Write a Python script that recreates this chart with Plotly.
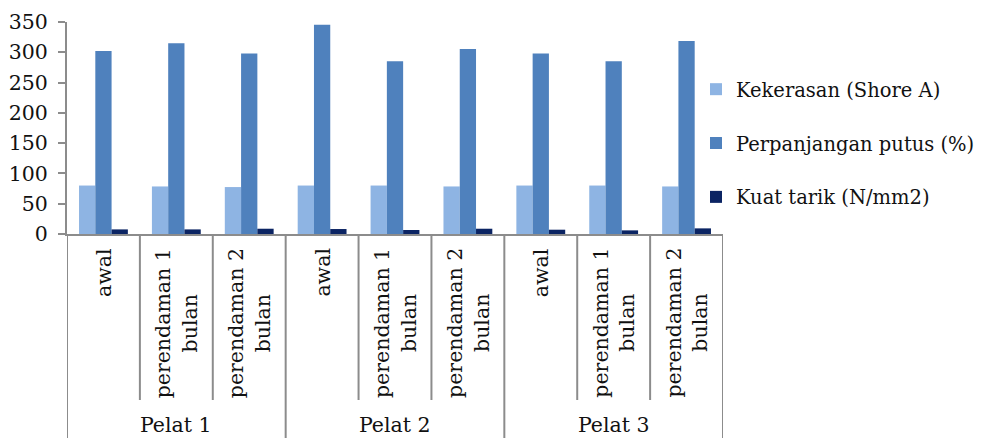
import plotly.graph_objects as go

groups = ["Pelat 1", "Pelat 2", "Pelat 3"]
subs = ["awal", "perendaman 1<br>bulan", "perendaman 2<br>bulan"]
series_names = ["Kekerasan (Shore A)", "Perpanjangan putus (%)", "Kuat tarik (N/mm2)"]
kekerasan = [80, 78.5, 77.5, 80, 80, 78.5, 80, 80, 78.5]
perpanjangan = [302, 315, 298, 345.5, 285, 305.5, 298, 285, 318.5]
kuat_tarik = [7.6, 7.6, 8.7, 8.2, 6.6, 8.7, 7.1, 6.0, 9.3]
colors = ["#8EB4E3", "#4F81BD", "#0B2463"]
y_ticks = [0, 50, 100, 150, 200, 250, 300, 350]

FONT = "DejaVu Serif"
GRAY = "#8C8C8C"
FS = 20.5
LFS = 19.5

n = len(groups) * len(subs)
xs = list(range(n))

fig = go.Figure()
for name, vals, col in zip(series_names, [kekerasan, perpanjangan, kuat_tarik], colors):
    fig.add_trace(go.Bar(x=xs, y=vals, name=name, marker=dict(color=col, line=dict(width=0)),
                         legendgroup=name))

# plot area geometry (pixels) used for paper-coord conversions
top_px, bot_px = 22, 234
h_px = bot_px - top_px

def py(px):
    return (bot_px - px) / h_px

annotations = []
shapes = []
for gi, g in enumerate(groups):
    for si, s in enumerate(subs):
        i = gi * len(subs) + si
        annotations.append(dict(x=i, y=py(246), xref="x", yref="paper", text=s, textangle=-90,
                                showarrow=False, xanchor="center", yanchor="top", align="center",
                                font=dict(family=FONT, size=FS, color="#111111")))
    annotations.append(dict(x=gi * len(subs) + 1, y=py(425), xref="x", yref="paper", text=g,
                            showarrow=False, xanchor="center", yanchor="middle",
                            font=dict(family=FONT, size=FS, color="#111111")))

for i in range(n + 1):
    xb = i - 0.5
    is_group = (i % len(subs) == 0)
    shapes.append(dict(type="line", xref="x", yref="paper", x0=xb, x1=xb, y0=0,
                       y1=py(438) if is_group else py(400),
                       line=dict(color=GRAY, width=2), layer="above"))

fig.update_layout(
    width=989, height=438,
    margin=dict(l=67, r=266, t=top_px, b=438 - bot_px, pad=0, autoexpand=False),
    paper_bgcolor="white", plot_bgcolor="white",
    barmode="group", bargap=0.33, bargroupgap=0,
    font=dict(family=FONT, size=FS, color="#111111"),
    xaxis=dict(range=[-0.5, n - 0.5], showticklabels=False, ticks="", showgrid=False,
               showline=True, linecolor=GRAY, linewidth=2, zeroline=False, fixedrange=True,
               automargin=False),
    yaxis=dict(range=[0, 350], tickvals=y_ticks, showgrid=False, zeroline=False,
               showline=True, linecolor=GRAY, linewidth=2, ticks="outside", ticklen=7,
               tickwidth=2, tickcolor=GRAY, ticklabelstandoff=6, automargin=False,
               tickfont=dict(family=FONT, size=FS, color="#111111")),
    legend=dict(x=0.9588, xanchor="left", y=py(70), yanchor="top",
                font=dict(family=FONT, size=LFS, color="#111111"),
                traceorder="grouped", tracegroupgap=25.5, bgcolor="rgba(0,0,0,0)",
                itemclick=False, itemdoubleclick=False, itemwidth=30),
    annotations=annotations, shapes=shapes,
    showlegend=True,
)

fig.write_html("out.html")
